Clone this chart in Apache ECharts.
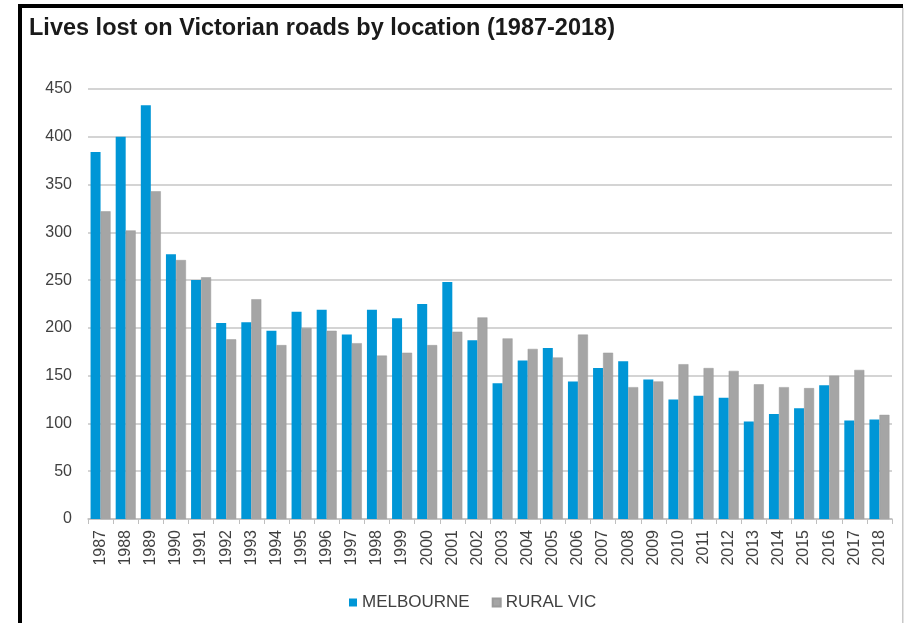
<!DOCTYPE html>
<html>
<head>
<meta charset="utf-8">
<script src="https://cdn.jsdelivr.net/npm/echarts@6/dist/echarts.min.js"></script>
<style>
  html, body { margin: 0; padding: 0; background: #fff; }
  #chart { width: 905px; height: 623px; }
</style>
</head>
<body>
<div id="chart"></div>
<script>
// Road deaths per year, split by Melbourne and rural Victoria
const years = ['1987','1988','1989','1990','1991','1992','1993','1994','1995','1996',
  '1997','1998','1999','2000','2001','2002','2003','2004','2005','2006','2007','2008',
  '2009','2010','2011','2012','2013','2014','2015','2016','2017','2018'];
const melbourne = [384, 400, 433, 277, 250, 205, 206, 197, 217, 219, 193, 219, 210, 225, 248, 187,
  142, 166, 179, 144, 158, 165, 146, 125, 129, 127, 102, 110, 116, 140, 103, 104];
const ruralVic = [322, 302, 343, 271, 253, 188, 230, 182, 200, 197, 184, 171, 174, 182, 196, 211,
  189, 178, 169, 193, 174, 138, 144, 162, 158, 155, 141, 138, 137, 150, 156, 109];
const yTicks = [0, 50, 100, 150, 200, 250, 300, 350, 400, 450];

const chart = echarts.init(document.getElementById('chart'), null, { renderer: 'canvas' });
const labelFont = 'Liberation Sans, Arial, sans-serif';

chart.setOption({
  animation: false,
  backgroundColor: '#ffffff',
  title: {
    text: 'Lives lost on Victorian roads by location (1987-2018)',
    left: 24, top: 12,
    textStyle: { fontFamily: labelFont, fontWeight: 'bold', fontSize: 23.5, color: '#1a1a1a' }
  },
  graphic: [
    { type: 'rect', shape: { x: 18, y: 4, width: 4, height: 623 }, style: { fill: '#000' } },
    { type: 'rect', shape: { x: 18, y: 4, width: 885, height: 4 }, style: { fill: '#000' } },
    { type: 'rect', shape: { x: 902, y: 8, width: 1.5, height: 615 }, style: { fill: '#c8c8c8' } }
  ],
  legend: {
    left: 344, top: 589,
    icon: 'rect', itemWidth: 8, itemHeight: 8, itemGap: 22,
    textStyle: { fontFamily: labelFont, fontSize: 17, color: '#404040', padding: [0, 0, 0, 0] },
    data: ['MELBOURNE', 'RURAL VIC']
  },
  grid: { left: 88, right: 13, top: 89, bottom: 104, containLabel: false },
  xAxis: {
    type: 'category',
    data: years,
    boundaryGap: true,
    axisLine: { lineStyle: { color: '#bfbfbf', width: 1.5 } },
    axisTick: { show: true, length: 5, lineStyle: { color: '#bfbfbf' } },
    axisLabel: { rotate: 90, interval: 0, margin: 11, fontFamily: labelFont, fontSize: 16, color: '#404040' }
  },
  yAxis: {
    type: 'value',
    min: yTicks[0], max: yTicks[yTicks.length - 1], interval: 50,
    axisLine: { show: false },
    axisTick: { show: false },
    splitLine: { lineStyle: { color: '#d4d4d4', width: 2 } },
    axisLabel: { margin: 16, fontFamily: labelFont, fontSize: 16, color: '#404040' }
  },
  series: [
    {
      name: 'MELBOURNE', type: 'bar', data: melbourne,
      barWidth: 10, barGap: '0%',
      itemStyle: { color: '#0096d6' }
    },
    {
      name: 'RURAL VIC', type: 'bar', data: ruralVic,
      barWidth: 10,
      itemStyle: { color: '#a5a5a5', borderColor: '#9a9a9a', borderWidth: 0.5 }
    }
  ]
});
</script>
</body>
</html>
